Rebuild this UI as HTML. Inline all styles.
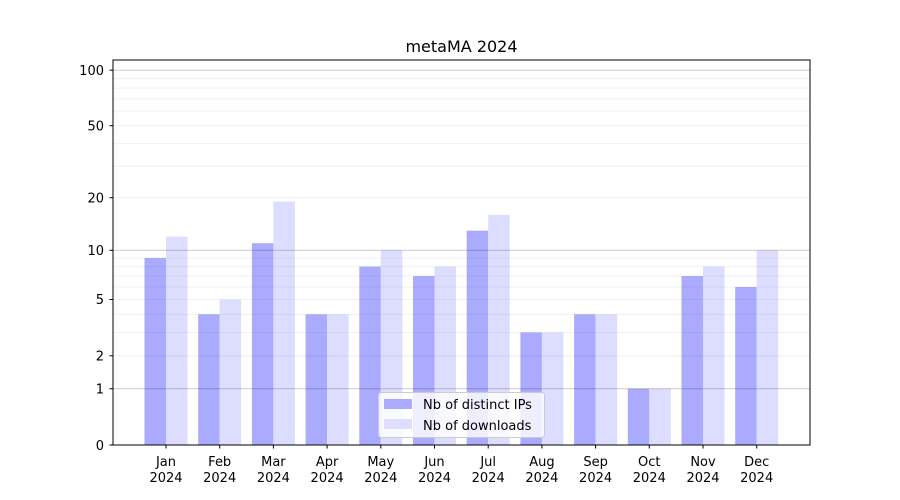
<!DOCTYPE html>
<html><head><meta charset="utf-8"><style>
html,body{margin:0;padding:0;background:#fff;}
svg{display:block;font-family:"DejaVu Sans","Liberation Sans",sans-serif;}
</style></head><body>
<svg width="900" height="500" viewBox="0 0 900 500" xmlns="http://www.w3.org/2000/svg">
<rect width="900" height="500" fill="#fff"/>
<g id="bars">
<rect x="144.5" y="258" width="21.5" height="187" fill="#aaaaff"/><rect x="166" y="236.7" width="21.5" height="208.3" fill="#ddddff"/>
<rect x="198.2" y="314.3" width="21.5" height="130.7" fill="#aaaaff"/><rect x="219.7" y="299.5" width="21.5" height="145.5" fill="#ddddff"/>
<rect x="251.9" y="243.2" width="21.5" height="201.8" fill="#aaaaff"/><rect x="273.4" y="201.7" width="21.5" height="243.3" fill="#ddddff"/>
<rect x="305.6" y="314.3" width="21.5" height="130.7" fill="#aaaaff"/><rect x="327.1" y="314.3" width="21.5" height="130.7" fill="#ddddff"/>
<rect x="359.3" y="266.6" width="21.5" height="178.4" fill="#aaaaff"/><rect x="380.8" y="250.3" width="21.5" height="194.7" fill="#ddddff"/>
<rect x="413" y="276.1" width="21.5" height="168.9" fill="#aaaaff"/><rect x="434.5" y="266.6" width="21.5" height="178.4" fill="#ddddff"/>
<rect x="466.7" y="230.7" width="21.5" height="214.3" fill="#aaaaff"/><rect x="488.2" y="214.9" width="21.5" height="230.1" fill="#ddddff"/>
<rect x="520.4" y="332.4" width="21.5" height="112.6" fill="#aaaaff"/><rect x="541.9" y="332.4" width="21.5" height="112.6" fill="#ddddff"/>
<rect x="574.1" y="314.3" width="21.5" height="130.7" fill="#aaaaff"/><rect x="595.6" y="314.3" width="21.5" height="130.7" fill="#ddddff"/>
<rect x="627.8" y="388.7" width="21.5" height="56.3" fill="#aaaaff"/><rect x="649.3" y="388.7" width="21.5" height="56.3" fill="#ddddff"/>
<rect x="681.5" y="276.1" width="21.5" height="168.9" fill="#aaaaff"/><rect x="703" y="266.6" width="21.5" height="178.4" fill="#ddddff"/>
<rect x="735.2" y="287" width="21.5" height="158" fill="#aaaaff"/><rect x="756.7" y="250.3" width="21.5" height="194.7" fill="#ddddff"/>
</g>
<g stroke="#000" stroke-opacity="0.07" stroke-width="0.8">
<line x1="113" x2="810" y1="355.8" y2="355.8"/><line x1="113" x2="810" y1="332.4" y2="332.4"/>
<line x1="113" x2="810" y1="314.3" y2="314.3"/><line x1="113" x2="810" y1="299.5" y2="299.5"/>
<line x1="113" x2="810" y1="287" y2="287"/><line x1="113" x2="810" y1="276.1" y2="276.1"/>
<line x1="113" x2="810" y1="266.6" y2="266.6"/><line x1="113" x2="810" y1="258" y2="258"/>
<line x1="113" x2="810" y1="197.7" y2="197.7"/><line x1="113" x2="810" y1="166.1" y2="166.1"/>
<line x1="113" x2="810" y1="143.4" y2="143.4"/><line x1="113" x2="810" y1="125.7" y2="125.7"/>
<line x1="113" x2="810" y1="111.1" y2="111.1"/><line x1="113" x2="810" y1="98.8" y2="98.8"/>
<line x1="113" x2="810" y1="88.1" y2="88.1"/><line x1="113" x2="810" y1="78.7" y2="78.7"/>
</g>
<g stroke="#000" stroke-opacity="0.2" stroke-width="1">
<line x1="113" x2="810" y1="388.7" y2="388.7"/><line x1="113" x2="810" y1="250.3" y2="250.3"/><line x1="113" x2="810" y1="70.2" y2="70.2"/>
</g>
<rect x="113" y="60" width="697" height="385" fill="none" stroke="#000" stroke-width="1"/>
<g stroke="#000" stroke-width="1">
<line x1="109.5" x2="113" y1="445" y2="445"/><line x1="109.5" x2="113" y1="388.7" y2="388.7"/>
<line x1="109.5" x2="113" y1="355.8" y2="355.8"/><line x1="109.5" x2="113" y1="299.5" y2="299.5"/>
<line x1="109.5" x2="113" y1="250.3" y2="250.3"/><line x1="109.5" x2="113" y1="197.7" y2="197.7"/>
<line x1="109.5" x2="113" y1="125.7" y2="125.7"/><line x1="109.5" x2="113" y1="70.2" y2="70.2"/>
<line y1="445" y2="448.5" x1="166" x2="166"/><line y1="445" y2="448.5" x1="219.7" x2="219.7"/>
<line y1="445" y2="448.5" x1="273.4" x2="273.4"/><line y1="445" y2="448.5" x1="327.1" x2="327.1"/>
<line y1="445" y2="448.5" x1="380.8" x2="380.8"/><line y1="445" y2="448.5" x1="434.5" x2="434.5"/>
<line y1="445" y2="448.5" x1="488.2" x2="488.2"/><line y1="445" y2="448.5" x1="541.9" x2="541.9"/>
<line y1="445" y2="448.5" x1="595.6" x2="595.6"/><line y1="445" y2="448.5" x1="649.3" x2="649.3"/>
<line y1="445" y2="448.5" x1="703" x2="703"/><line y1="445" y2="448.5" x1="756.7" x2="756.7"/>
</g>
<g font-size="13" text-anchor="end" fill="#000">
<text x="104" y="450">0</text><text x="104" y="393.5">1</text><text x="104" y="360.5">2</text>
<text x="104" y="304">5</text><text x="104" y="255">10</text><text x="104" y="202.5">20</text>
<text x="104" y="130.5">50</text><text x="104" y="75">100</text>
</g>
<g font-size="13" text-anchor="middle" fill="#000">
<text x="166" y="466">Jan</text><text x="166" y="482">2024</text>
<text x="219.7" y="466">Feb</text><text x="219.7" y="482">2024</text>
<text x="273.4" y="466">Mar</text><text x="273.4" y="482">2024</text>
<text x="327.1" y="466">Apr</text><text x="327.1" y="482">2024</text>
<text x="380.8" y="466">May</text><text x="380.8" y="482">2024</text>
<text x="434.5" y="466">Jun</text><text x="434.5" y="482">2024</text>
<text x="488.2" y="466">Jul</text><text x="488.2" y="482">2024</text>
<text x="541.9" y="466">Aug</text><text x="541.9" y="482">2024</text>
<text x="595.6" y="466">Sep</text><text x="595.6" y="482">2024</text>
<text x="649.3" y="466">Oct</text><text x="649.3" y="482">2024</text>
<text x="703" y="466">Nov</text><text x="703" y="482">2024</text>
<text x="756.7" y="466">Dec</text><text x="756.7" y="482">2024</text>
<text x="461.5" y="52" font-size="16">metaMA 2024</text>
</g>
<rect x="378.5" y="392.5" width="166" height="45" rx="3" fill="#fff" fill-opacity="0.8" stroke="#ccc" stroke-width="1"/>
<rect x="384" y="399" width="28" height="10" fill="#aaaaff"/>
<rect x="384" y="419" width="28" height="10" fill="#ddddff"/>
<text x="423" y="409" font-size="13" fill="#000">Nb of distinct IPs</text>
<text x="423" y="430" font-size="13" fill="#000">Nb of downloads</text>
</svg>
</body></html>
